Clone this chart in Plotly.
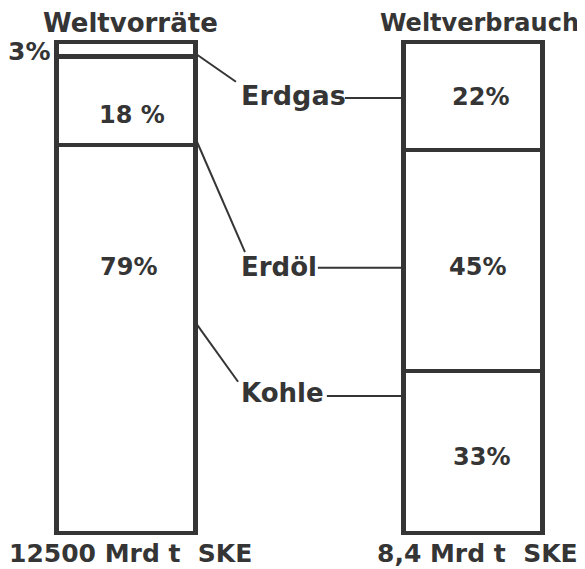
import plotly.graph_objects as go

# ---- data ----
groups = ["Weltvorräte", "Weltverbrauch"]
totals = ["12500 Mrd t\u00a0\u00a0SKE", "8,4 Mrd t\u00a0\u00a0SKE"]
sources = ["Kohle", "Erdöl", "Erdgas"]
kohle = [79, 33]
erdoel = [18, 45]
erdgas = [3, 22]
kohle_txt = ["79%", "33%"]
erdoel_txt = ["18 %", "45%"]
erdgas_txt = ["3%", "22%"]

INK = "#353535"
FONT = "DejaVu Sans"
BAR_W = 0.4

fig = go.Figure()
for name, vals in [("Kohle", kohle), ("Erdöl", erdoel), ("Erdgas", erdgas)]:
    fig.add_trace(go.Bar(
        x=groups, y=vals, name=name, width=BAR_W,
        marker=dict(color="white", line=dict(color=INK, width=4.5)),
        hoverinfo="skip",
    ))

annotations = []
title_size = [26, 24]
title_dx = [0.012, 0.020]
for i, g in enumerate(groups):
    annotations.append(dict(x=i + title_dx[i], y=103.9, xref="x", yref="y", text=f"<b>{g}</b>", showarrow=False,
                            font=dict(family=FONT, size=title_size[i], color=INK)))
    annotations.append(dict(x=i + 0.012, y=-4.1, xref="x", yref="y", text=f"<b>{totals[i]}</b>", showarrow=False,
                            font=dict(family=FONT, size=25, color=INK)))

# percentage labels (placement offsets as in the drawing)
pct_pos = {
    ("Kohle", 0): (0.006, 54.2), ("Kohle", 1): (0.026, 15.5),
    ("Erdöl", 0): (0.017, 85.1), ("Erdöl", 1): (0.012, 54.2),
    ("Erdgas", 0): (-0.28, 98.0), ("Erdgas", 1): (0.023, 88.8),
}
for s, txts in [("Kohle", kohle_txt), ("Erdöl", erdoel_txt), ("Erdgas", erdgas_txt)]:
    for i, t in enumerate(txts):
        dx, y = pct_pos[(s, i)]
        annotations.append(dict(x=i + dx, y=y, xref="x", yref="y", text=f"<b>{t}</b>", showarrow=False,
                                font=dict(family=FONT, size=24 if (s, i) != ("Erdgas", 0) else 25, color=INK)))

label_pos = {"Erdgas": (0.326, 89.2), "Erdöl": (0.326, 54.2), "Kohle": (0.326, 28.5)}
diag = {"Erdgas": ((0.205, 97.4), (0.317, 91.9)),
        "Erdöl": ((0.199, 80.6), (0.343, 57.2)),
        "Kohle": ((0.199, 43.0), (0.323, 30.8))}
horiz = {"Erdgas": (0.631, 88.6), "Erdöl": (0.553, 54.0), "Kohle": (0.579, 27.9)}
label_size = {"Erdgas": 27, "Erdöl": 26, "Kohle": 26}

shapes = []
for s in sources:
    lx, ly = label_pos[s]
    annotations.append(dict(x=lx, y=ly, xref="x", yref="y", text=f"<b>{s}</b>", showarrow=False, xanchor="left",
                            font=dict(family=FONT, size=label_size[s], color=INK)))
    (x0, y0), (x1, y1) = diag[s]
    shapes.append(dict(type="line", xref="x", yref="y", x0=x0, y0=y0, x1=x1, y1=y1,
                       line=dict(color=INK, width=2)))
    hx, hy = horiz[s]
    shapes.append(dict(type="line", xref="x", yref="y", x0=hx, y0=hy, x1=1 - BAR_W / 2, y1=hy,
                       line=dict(color=INK, width=2)))

# page body has an 8px margin: figure is 577x561 so it fills the 585x569 window
fig.update_layout(
    barmode="stack",
    width=577, height=561,
    margin=dict(l=0, r=0, t=0, b=0),
    paper_bgcolor="white", plot_bgcolor="white",
    showlegend=False,
    annotations=annotations, shapes=shapes,
    xaxis=dict(type="category", range=[-0.340, 1.323], visible=False, fixedrange=True),
    yaxis=dict(range=[-7.33, 106.92], visible=False, fixedrange=True),
)

fig.write_html("out.html")
